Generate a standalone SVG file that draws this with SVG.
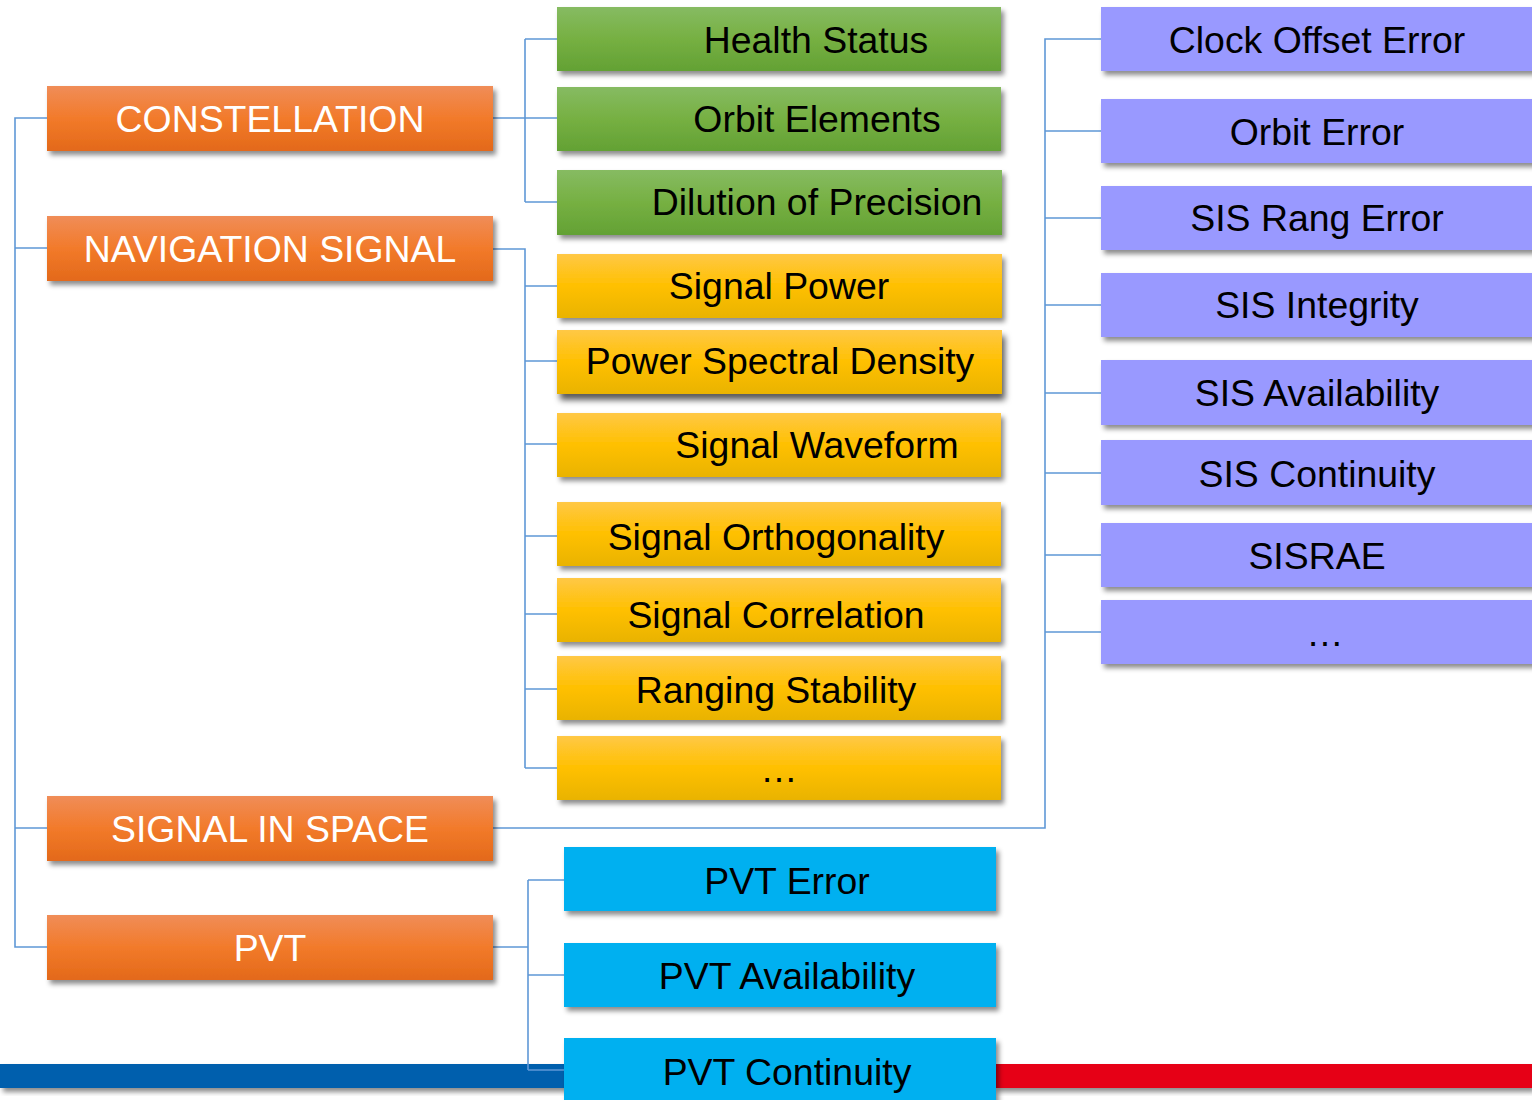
<svg xmlns="http://www.w3.org/2000/svg" width="1532" height="1100" viewBox="0 0 1532 1100">
<defs>
<linearGradient id="gOr" x1="0" y1="0" x2="0" y2="1">
<stop offset="0" stop-color="#F08D58"/><stop offset="0.5" stop-color="#F27A2A"/><stop offset="1" stop-color="#E3691A"/>
</linearGradient>
<linearGradient id="gGr" x1="0" y1="0" x2="0" y2="1">
<stop offset="0" stop-color="#86BB62"/><stop offset="0.5" stop-color="#76B042"/><stop offset="1" stop-color="#63A134"/>
</linearGradient>
<linearGradient id="gYe" x1="0" y1="0" x2="0" y2="1">
<stop offset="0" stop-color="#FFC846"/><stop offset="0.5" stop-color="#FFC000"/><stop offset="1" stop-color="#E9B300"/>
</linearGradient>
<filter id="sh" x="-5%" y="-20%" width="115%" height="150%">
<feDropShadow dx="3" dy="4" stdDeviation="2.5" flood-color="#000" flood-opacity="0.45"/>
</filter>
<filter id="sh2" x="-5%" y="-20%" width="115%" height="160%">
<feDropShadow dx="3" dy="6" stdDeviation="3" flood-color="#000" flood-opacity="0.65"/>
</filter>
</defs>
<style>
.or{fill:url(#gOr);filter:url(#sh)}
.gr{fill:url(#gGr);filter:url(#sh)}
.ye{fill:url(#gYe);filter:url(#sh)}
.pu{fill:#9999FF;filter:url(#sh)}
.bl{fill:#00B0F0;filter:url(#sh)}
text{font-family:"Liberation Sans",Arial,sans-serif;font-size:37.4px;text-anchor:middle}
.w{fill:#FFFFFF}
.k{fill:#000000}
.cn{fill:none;stroke:#5F98D6;stroke-width:1.6}
</style>
<rect x="0" y="1064" width="566" height="24" fill="#005EAD" filter="url(#sh)"/>
<rect x="994" y="1064" width="538" height="24" fill="#E60012" filter="url(#sh)"/>
<g id="connectors" class="cn">
<path d="M47,118 H15 V947 H47 M15,248 H47 M15,828 H47"/>
<path d="M493,118 H557 M525,39 V202 M525,39 H557 M525,202 H557"/>
<path d="M493,249 H525 V768 M525,286 H557 M525,361 H557 M525,444 H557 M525,536 H557 M525,614 H557 M525,689 H557 M525,768 H557"/>
<path d="M493,828 H1045 V39 H1101 M1045,131 H1101 M1045,218 H1101 M1045,305 H1101 M1045,393 H1101 M1045,473 H1101 M1045,555 H1101 M1045,632 H1101"/>
<path d="M493,947 H528 M528,880 V1070 M528,880 H564 M528,975 H564 M528,1070 H564"/>
</g>
<g id="constellation"><rect class="or" x="47" y="86" width="446" height="65"/><text class="w" x="270" y="132">CONSTELLATION</text></g>
<g id="navigation-signal"><rect class="or" x="47" y="216" width="446" height="65"/><text class="w" x="270" y="262">NAVIGATION SIGNAL</text></g>
<g id="signal-in-space"><rect class="or" x="47" y="796" width="446" height="65"/><text class="w" x="270" y="842">SIGNAL IN SPACE</text></g>
<g id="pvt"><rect class="or" x="47" y="915" width="446" height="65"/><text class="w" x="270" y="961">PVT</text></g>

<g id="health-status"><rect class="gr" x="557" y="7" width="444" height="64"/><text class="k" x="816" y="53">Health Status</text></g>
<g id="orbit-elements"><rect class="gr" x="557" y="87" width="444" height="64"/><text class="k" x="817" y="132">Orbit Elements</text></g>
<g id="dilution-of-precision"><rect class="gr" x="557" y="170" width="445" height="65"/><text class="k" x="817" y="215">Dilution of Precision</text></g>

<g id="signal-power"><rect class="ye" x="557" y="254" width="445" height="64"/><text class="k" x="779" y="299">Signal Power</text></g>
<g id="power-spectral-density"><rect x="557" y="330" width="445" height="64" fill="url(#gYe)" filter="url(#sh2)"/><text class="k" x="780" y="374">Power Spectral Density</text></g>
<g id="signal-waveform"><rect class="ye" x="557" y="413" width="444" height="64"/><text class="k" x="817" y="458">Signal Waveform</text></g>
<g id="signal-orthogonality"><rect class="ye" x="557" y="502" width="444" height="64"/><text class="k" x="776" y="550">Signal Orthogonality</text></g>
<g id="signal-correlation"><rect class="ye" x="557" y="578" width="444" height="64"/><text class="k" x="776" y="628">Signal Correlation</text></g>
<g id="ranging-stability"><rect class="ye" x="557" y="656" width="444" height="64"/><text class="k" x="776" y="703">Ranging Stability</text></g>
<g id="yellow-more"><rect class="ye" x="557" y="736" width="444" height="64"/><text class="k" x="779" y="782">…</text></g>

<g id="clock-offset-error"><rect class="pu" x="1101" y="7" width="440" height="64"/><text class="k" x="1317" y="53">Clock Offset Error</text></g>
<g id="orbit-error"><rect class="pu" x="1101" y="99" width="440" height="64"/><text class="k" x="1317" y="145">Orbit Error</text></g>
<g id="sis-rang-error"><rect class="pu" x="1101" y="186" width="440" height="64"/><text class="k" x="1317" y="231">SIS Rang Error</text></g>
<g id="sis-integrity"><rect class="pu" x="1101" y="273" width="440" height="64"/><text class="k" x="1317" y="318">SIS Integrity</text></g>
<g id="sis-availability"><rect class="pu" x="1101" y="360" width="440" height="65"/><text class="k" x="1317" y="406">SIS Availability</text></g>
<g id="sis-continuity"><rect class="pu" x="1101" y="440" width="440" height="65"/><text class="k" x="1317" y="487">SIS Continuity</text></g>
<g id="sisrae"><rect class="pu" x="1101" y="523" width="440" height="64"/><text class="k" x="1317" y="569">SISRAE</text></g>
<g id="purple-more"><rect class="pu" x="1101" y="600" width="440" height="64"/><text class="k" x="1325" y="646">…</text></g>

<g id="pvt-error"><rect class="bl" x="564" y="847" width="432" height="64"/><text class="k" x="787" y="894">PVT Error</text></g>
<g id="pvt-availability"><rect class="bl" x="564" y="943" width="432" height="64"/><text class="k" x="787" y="989">PVT Availability</text></g>
<g id="pvt-continuity"><rect class="bl" x="564" y="1038" width="432" height="70"/><text class="k" x="787" y="1085">PVT Continuity</text></g>
</svg>
